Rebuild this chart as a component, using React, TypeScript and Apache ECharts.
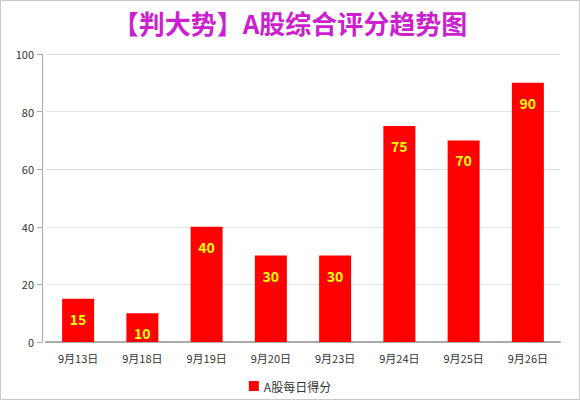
import React, { useEffect, useRef } from "react";
import * as echarts from "echarts";

const title = "【判大势】A股综合评分趋势图";
const seriesName = "A股每日得分";
const categories = ["9月13日", "9月18日", "9月19日", "9月20日", "9月23日", "9月24日", "9月25日", "9月26日"];
const scores = [15, 10, 40, 30, 30, 75, 70, 90];

export default function App() {
  const ref = useRef<HTMLDivElement>(null);
  useEffect(() => {
    document.body.style.margin = "0";
    const chart = echarts.init(ref.current!, null, { renderer: "svg" });
    const font = "'Noto Sans CJK SC', sans-serif";
    chart.setOption({
      animation: false,
      backgroundColor: "#fff",
      textStyle: { fontFamily: font },
      title: {
        text: title,
        left: "center",
        top: 3,
        textStyle: { fontSize: 26, fontWeight: "bold", color: "#cc1fd0", fontFamily: font },
      },
      legend: {
        bottom: 2,
        left: "center",
        itemWidth: 10,
        itemHeight: 10,
        icon: "rect",
        textStyle: { fontSize: 12, color: "#333" },
        data: [seriesName],
      },
      grid: { left: 45, right: 19, top: 53, bottom: 57 },
      xAxis: {
        type: "category",
        data: categories,
        axisLine: { lineStyle: { color: "#aaa", width: 2 } },
        axisTick: { alignWithLabel: true, lineStyle: { color: "#aaa" } },
        axisLabel: { fontSize: 11, color: "#333", margin: 10 },
      },
      yAxis: {
        type: "value",
        min: 0,
        max: 100,
        interval: 20,
        offset: 4,
        axisLine: { show: true, lineStyle: { color: "#aaa" } },
        axisTick: { show: true, lineStyle: { color: "#aaa" } },
        axisLabel: { fontSize: 11, color: "#333" },
        splitLine: { lineStyle: { color: "#e3e3e3" } },
      },
      series: [
        {
          name: seriesName,
          type: "bar",
          data: scores,
          barWidth: 32,
          itemStyle: { color: "#ff0000" },
          label: {
            show: true,
            position: "insideTop",
            distance: 13,
            color: "#ffff00",
            fontSize: 14,
            fontWeight: "bold",
          },
        },
      ],
    });
    return () => chart.dispose();
  }, []);
  return (
    <div
      ref={ref}
      style={{
        position: "fixed",
        left: 0,
        top: 0,
        width: 580,
        height: 400,
        boxSizing: "border-box",
        border: "1px solid #c8c8c8",
      }}
    />
  );
}
